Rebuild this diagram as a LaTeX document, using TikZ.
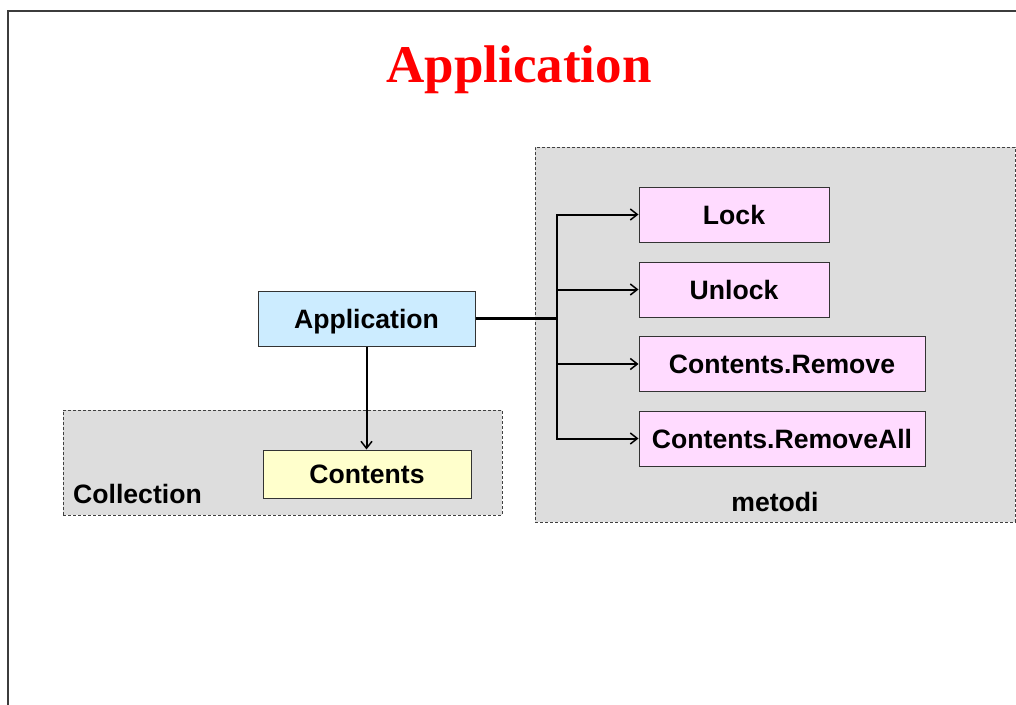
\documentclass[tikz,border=0pt]{standalone}
\usepackage{fontspec}
\setmainfont{Liberation Serif}
\setsansfont{Liberation Sans}
\usetikzlibrary{shapes,arrows.meta,positioning}
\definecolor{titlered}{RGB}{255,0,0}
\definecolor{groupgray}{RGB}{221,221,221}
\definecolor{appblue}{RGB}{204,236,255}
\definecolor{collyellow}{RGB}{255,255,204}
\definecolor{methodpink}{RGB}{255,219,255}
\definecolor{framegray}{RGB}{60,60,60}
\tikzset{
    % Dashed container style
    groupbox/.style={
        rectangle, draw=black!75, line width=0.9pt,
        dash pattern=on 3pt off 2pt, fill=groupgray
    },
    % Container caption style
    grouplabel/.style={
        inner sep=0pt, font=\sffamily\bfseries\fontsize{26.6}{30}\selectfont
    },
    % Object box style
    objbox/.style={
        rectangle, draw=black!80, line width=1pt,
        minimum height=55pt, inner sep=0pt,
        text height=19.4pt, text depth=0pt,
        font=\sffamily\bfseries\fontsize{26.6}{30}\selectfont
    },
    % Method box style
    methodbox/.style={
        objbox, fill=methodpink
    },
    % Connectors
    link/.style={
        -{Straight Barb[length=7pt,width=11pt,line width=1.5pt]},
        line width=2pt, color=black
    }
}

\begin{document}
\begin{tikzpicture}[x=1pt, y=-1pt]

\useasboundingbox (0,0) rectangle (1016,704);
\clip (0,0) rectangle (1016,704);

% Slide frame
\draw[framegray, line width=2.5pt] (8,720) -- (8,11) -- (1030,11);

% Title
\node[font=\bfseries\fontsize{53}{60}\selectfont, text=titlered, anchor=base] (title) at (519,82) {Application};

% Containers
\node[groupbox, minimum width=439pt, minimum height=105pt] (collection) at (282.5,462.5) {};
\node[grouplabel, anchor=base west] (collectionlbl) at (73,503) {Collection};
\node[groupbox, minimum width=480pt, minimum height=375pt] (methods) at (775,334.5) {};
\node[grouplabel, anchor=base] (methodslbl) at (775,511) {metodi};

% Objects
\node[objbox, fill=appblue, minimum width=217pt] (app) at (366.5,318.5) {Application};
\node[objbox, fill=collyellow, minimum width=208pt, minimum height=48pt] (contents) at (367,474) {Contents};

% Methods
\node[methodbox, minimum width=190pt] (lock) at (734,214.5) {Lock};
\node[methodbox, minimum width=190pt] (unlock) at (734,289.5) {Unlock};
\node[methodbox, minimum width=286pt] (remove) at (782,364) {Contents.Remove};
\node[methodbox, minimum width=286pt] (removeall) at (782,438.5) {Contents.RemoveAll};

% Connections
\coordinate (fork) at (557,318.5);
\draw[line width=3pt] (app.east) -- (fork);
\foreach \m in {lock,unlock,remove,removeall} {
    \draw[link] (fork) |- (\m.west);
}
\draw[link] (app.south) -- (app.south |- contents.north);

\end{tikzpicture}
\end{document}
